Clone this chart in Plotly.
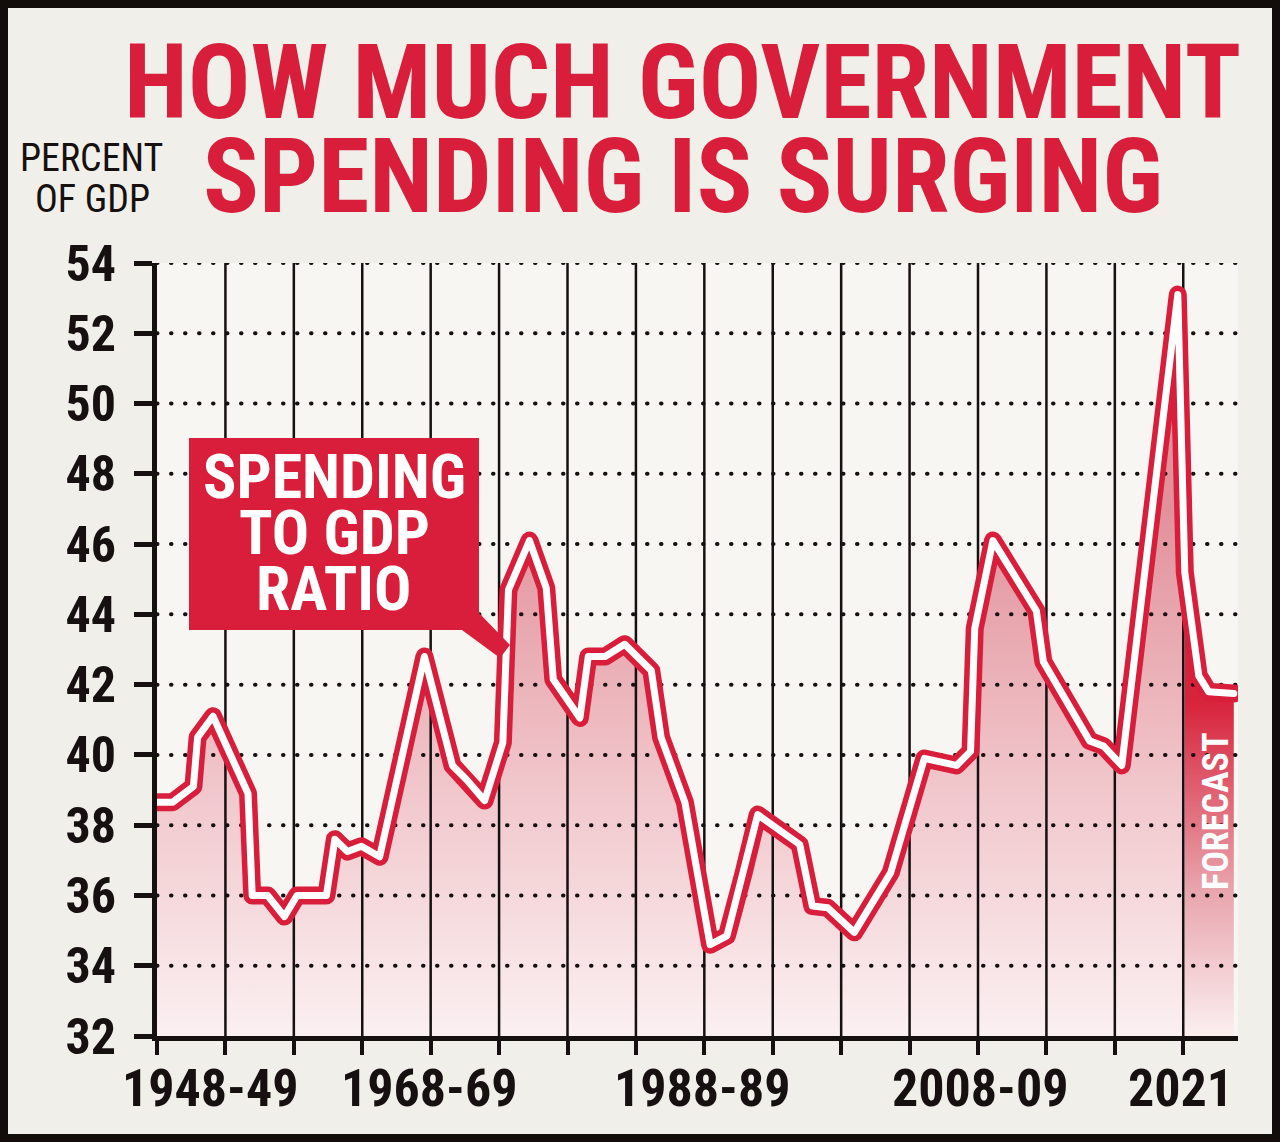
import plotly.graph_objects as go

# ---------------- data ----------------
YEARS = [1948.0, 1949.1, 1950.6, 1950.9, 1952.0, 1954.5, 1954.8, 1955.9, 1957.1, 1958.0,
         1960.1, 1960.7, 1961.6, 1962.6, 1963.9, 1967.1, 1969.1, 1970.1, 1971.4, 1972.7,
         1973.1, 1974.6, 1975.8, 1976.3, 1978.2, 1978.8, 1980.0, 1981.4, 1983.3, 1984.0,
         1985.7, 1987.5, 1988.7, 1989.9, 1990.9, 1993.9, 1994.8, 1995.9, 1997.8, 2000.4,
         2002.8, 2005.1, 2006.1, 2006.4, 2007.7, 2010.8, 2011.3, 2014.6, 2015.6, 2016.9,
         2020.9, 2021.4, 2022.4, 2023.1, 2024.9]
SPENDING = [38.65, 38.65, 39.1, 40.5, 41.1, 38.9, 36.0, 36.0, 35.4, 36.0,
            36.0, 37.6, 37.25, 37.4, 37.1, 42.8, 39.7, 39.3, 38.7, 40.35,
            44.7, 46.1, 44.75, 42.15, 41.05, 42.8, 42.8, 43.15, 42.4, 40.5,
            38.65, 34.6, 34.85, 36.65, 38.3, 37.45, 35.7, 35.65, 34.95, 36.65,
            39.9, 39.7, 40.1, 43.6, 46.1, 44.1, 42.65, 40.4, 40.25, 39.7,
            53.1, 45.2, 42.25, 41.8, 41.75]
FORECAST_FROM = 2021.4

Y_TICKS = [32, 34, 36, 38, 40, 42, 44, 46, 48, 50, 52, 54]
X_LABELS = ["1948-49", "1968-69", "1988-89", "2008-09", "2021"]
X_LABEL_POS = [1951.8, 1967.4, 1986.9, 2006.8, 2021.1]
X_GRID_START = 1948.0
X_GRID_STEP = 4.886
X_GRID_COUNT = 16
X_RANGE = [1948.0, 2025.2]
Y_RANGE = [32, 54]

TITLE_1 = "HOW MUCH GOVERNMENT"
TITLE_2 = "SPENDING IS SURGING"
UNIT_1 = "PERCENT"
UNIT_2 = "OF GDP"
CALLOUT = ["SPENDING", "TO GDP", "RATIO"]
FORECAST_TEXT = "FORECAST"

# ---------------- styling ----------------
W, H = 1280, 1142
ML, MR, MT, MB = 157, 42, 263, 106
PW, PH = W - ML - MR, H - MT - MB
RED = "#d81e3a"
INK = "#161010"
NARROW = "Liberation Sans Narrow, Arial Narrow, Roboto Condensed, DejaVu Sans Condensed, sans-serif"


def px(x):
    return (x - ML) / PW


def py(y):
    return (H - MB - y) / PH


main_x = [x for x in YEARS if x <= FORECAST_FROM]
main_y = SPENDING[:len(main_x)]
fc_x = [x for x in YEARS if x >= FORECAST_FROM]
fc_y = SPENDING[len(YEARS) - len(fc_x):]

fig = go.Figure()

# gradient fill under the line
fig.add_trace(go.Scatter(
    x=main_x, y=main_y, mode="lines", line=dict(width=0), fill="tozeroy",
    fillgradient=dict(type="vertical", start=32, stop=47,
                      colorscale=[[0, "#fbf0f1"], [0.5, "#f0c4c9"], [1, "#e2919b"]]),
    hoverinfo="skip", showlegend=False))
# forecast fill
fig.add_trace(go.Scatter(
    x=fc_x, y=fc_y, mode="lines", line=dict(width=0), fill="tozeroy",
    fillgradient=dict(type="vertical", start=32, stop=41.5,
                      colorscale=[[0, "#fbeff0"], [0.45, "#e8a2ab"], [1, "#d8233c"]]),
    hoverinfo="skip", showlegend=False))

# horizontal dotted grid lines (drawn above the fill)
gx, gy = [], []
for t in Y_TICKS[1:]:
    gx += [X_RANGE[0], X_RANGE[1], None]
    gy += [t, t, None]
fig.add_trace(go.Scatter(x=gx, y=gy, mode="lines",
                         line=dict(color=INK, width=4, dash="0.5px,13.5px"),
                         hoverinfo="skip", showlegend=False))
# vertical grid lines
grid_x = [X_GRID_START + i * X_GRID_STEP for i in range(X_GRID_COUNT)]
vx, vy = [], []
for g in grid_x[1:]:
    vx += [g, g, None]
    vy += [Y_RANGE[0], Y_RANGE[1], None]
fig.add_trace(go.Scatter(x=vx, y=vy, mode="lines",
                         line=dict(color=INK, width=2.5),
                         hoverinfo="skip", showlegend=False))

# the line: red outline with white core
fig.add_trace(go.Scatter(x=YEARS, y=SPENDING, mode="lines",
                         line=dict(color=RED, width=18),
                         hoverinfo="skip", showlegend=False))
fig.add_trace(go.Scatter(x=YEARS, y=SPENDING, mode="lines",
                         line=dict(color="white", width=7),
                         hoverinfo="skip", showlegend=False))


def text_ann(text, x, y, size, color, weight="normal", xref="paper", angle=0):
    return dict(text=text, x=x, y=y, xref=xref, yref="paper", showarrow=False,
                xanchor="center", yanchor="middle", textangle=angle,
                font=dict(family=NARROW, size=size, color=color, weight=weight))


ann = [
    text_ann(TITLE_1, px(682), py(82), 104, RED, "bold"),
    text_ann(TITLE_2, px(683), py(176), 104, RED, "bold"),
    text_ann(UNIT_1, px(91), py(158), 38, INK),
    text_ann(UNIT_2, px(92), py(199), 38, INK),
]
for i, line in enumerate(CALLOUT):
    ann.append(text_ann(line, px(334), py(476 + 56 * i), 62, "white", "bold"))
ann.append(text_ann(FORECAST_TEXT, px(1216), py(812), 36, "white", "bold", angle=-90))
for lab, pos in zip(X_LABELS, X_LABEL_POS):
    ann.append(text_ann(lab, pos, py(1088), 52, INK, "bold", xref="x"))

shapes = [
    dict(type="rect", xref="paper", yref="paper", x0=px(189), x1=px(479),
         y0=py(630), y1=py(438), fillcolor=RED, line=dict(width=0), layer="above"),
    dict(type="path", xref="paper", yref="paper",
         path="M {} {} L {} {} L {} {} L {} {} Z".format(px(462), py(630), px(479), py(613),
                                                          px(510), py(645), px(500), py(658)),
         fillcolor=RED, line=dict(width=0), layer="above"),
    dict(type="rect", xref="paper", yref="paper", x0=px(4), x1=px(1276),
         y0=py(1138), y1=py(4), line=dict(color="#120c0a", width=8), layer="above"),
]

fig.update_layout(
    width=W, height=H,
    margin=dict(l=ML, r=MR, t=MT, b=MB, pad=0),
    paper_bgcolor="#f1efea", plot_bgcolor="#f7f6f2",
    showlegend=False, hovermode=False,
    annotations=ann, shapes=shapes,
    xaxis=dict(range=X_RANGE, showgrid=False, zeroline=False, showline=True,
               linecolor=INK, linewidth=5, tickmode="array", tickvals=grid_x,
               ticks="outside", ticklen=14, tickwidth=4, tickcolor=INK,
               showticklabels=False),
    yaxis=dict(range=Y_RANGE, showgrid=False, zeroline=False, showline=True,
               linecolor=INK, linewidth=5, tickmode="array", tickvals=Y_TICKS,
               ticktext=[str(t) for t in Y_TICKS],
               ticks="outside", ticklen=18, tickwidth=5, tickcolor=INK,
               ticklabelstandoff=8,
               tickfont=dict(family=NARROW, size=50, color=INK, weight="bold")),
)

POST = """
document.body.style.margin='0px';
document.body.style.overflow='hidden';
document.querySelectorAll('.scatterlayer path.js-line').forEach(function(p){
  p.style.strokeLinejoin='round';
  p.style.strokeLinecap='round';
});
"""

fig.write_html("out.html", config={"displayModeBar": False, "staticPlot": True},
               post_script=POST)
